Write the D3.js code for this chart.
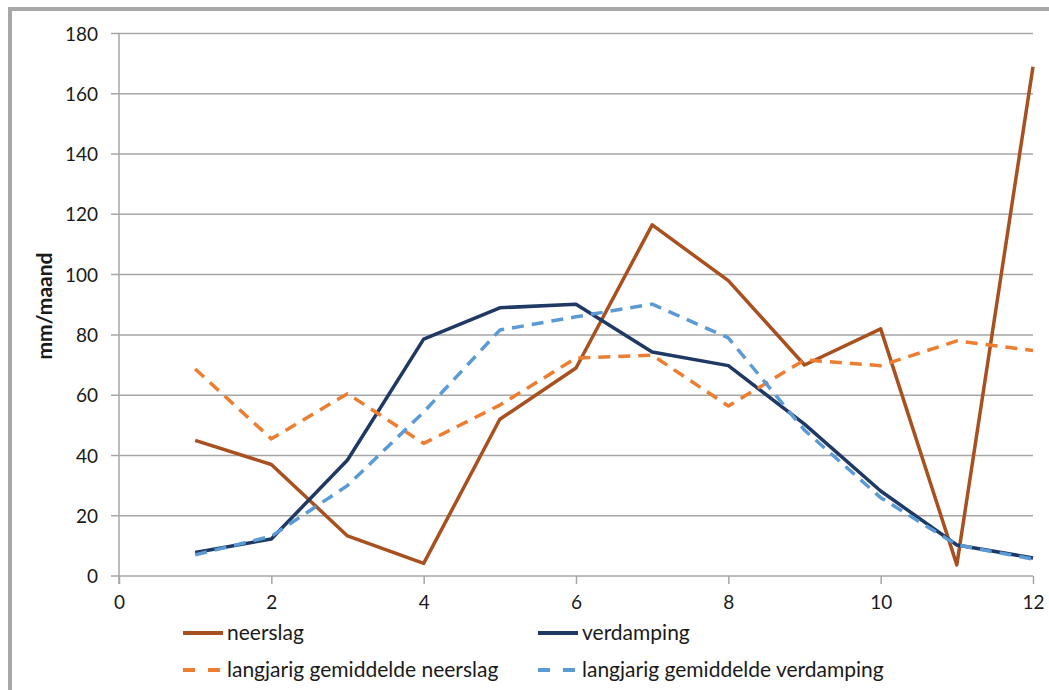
<!DOCTYPE html>
<html>
<head>
<meta charset="utf-8">
<script src="https://cdn.jsdelivr.net/npm/d3@7"></script>
<style>
  body { margin: 0; background: #fff; }
  text { font-family: Lato, "Open Sans", sans-serif; fill: #1a1a1a; }
</style>
</head>
<body>
<svg id="chart" width="1049" height="690"></svg>
<script>
// maand 1..12
const months = [1, 2, 3, 4, 5, 6, 7, 8, 9, 10, 11, 12];
const neerslag = [45, 37, 13.3, 4.2, 52, 69, 116.5, 98, 70, 82, 3.7, 169];
const verdamping = [7.8, 12.3, 38.5, 78.6, 89, 90.2, 74.3, 69.8, 50.4, 28.2, 10.3, 6];
const gemNeerslag = [68.7, 45.5, 60.5, 44, 56.7, 72.3, 73.3, 56.4, 71.7, 69.8, 78, 74.8];
const gemVerdamping = [7, 13.2, 30, 54.4, 81.6, 86, 90.2, 79, 48.4, 26, 10.3, 5.6];
const xTicks = [0, 2, 4, 6, 8, 10, 12];
const yTicks = [0, 20, 40, 60, 80, 100, 120, 140, 160, 180];

const series = [
    { name: "neerslag", values: neerslag, color: "#a9501f", dash: null },
    { name: "verdamping", values: verdamping, color: "#1f3864", dash: null },
    { name: "langjarig gemiddelde neerslag", values: gemNeerslag, color: "#ed7d31", dash: "12,8" },
    { name: "langjarig gemiddelde verdamping", values: gemVerdamping, color: "#5b9bd5", dash: "12,8" }
];

const svg = d3.select("#chart");

// outer frame (only top and left visible)
svg.append("rect")
    .attr("x", 10).attr("y", 9)
    .attr("width", 1200).attr("height", 900)
    .attr("fill", "none")
    .attr("stroke", "#a8a8a8")
    .attr("stroke-width", 4);

const xscale = d3.scaleLinear().domain([0, 12]).range([119, 1033]);
const yscale = d3.scaleLinear().domain([0, 180]).range([576, 33.5]);

// gridlines + y labels
const yaxis = d3.axisLeft(yscale).tickValues(yTicks).tickSize(0).tickPadding(0);
const g_yaxis = svg.append("g").attr("transform", "translate(111,0)").call(yaxis);
g_yaxis.select(".domain").remove();
g_yaxis.selectAll("text")
    .attr("x", -13)
    .attr("dy", "0.35em")
    .style("font-size", "19px")
    .style("font-family", "Lato, 'Open Sans', sans-serif")
    .attr("fill", "#1a1a1a");

svg.append("g").selectAll("line").data(yTicks).join("line")
    .attr("x1", 111).attr("x2", 1033)
    .attr("y1", d => yscale(d)).attr("y2", d => yscale(d))
    .attr("stroke", "#a6a6a6").attr("stroke-width", 1.5);

// vertical axis line
svg.append("line")
    .attr("x1", xscale(0)).attr("x2", xscale(0))
    .attr("y1", yscale(180)).attr("y2", yscale(0) + 8)
    .attr("stroke", "#a6a6a6").attr("stroke-width", 1.5);

// x axis
const xaxis = d3.axisBottom(xscale).tickValues(xTicks).tickSize(8).tickPadding(12);
const g_xaxis = svg.append("g").attr("transform", `translate(0,${yscale(0)})`).call(xaxis);
g_xaxis.select(".domain").remove();
g_xaxis.selectAll("line").attr("stroke", "#a6a6a6").attr("stroke-width", 1.5);
g_xaxis.selectAll("text")
    .style("font-size", "19px")
    .style("font-family", "Lato, 'Open Sans', sans-serif")
    .attr("fill", "#1a1a1a");

// y axis title
svg.append("text")
    .attr("transform", "translate(52,306) rotate(-90)")
    .attr("text-anchor", "middle")
    .style("font-size", "21px")
    .style("font-weight", "bold")
    .text("mm/maand");

// lines
const line = d3.line()
    .x((d, i) => xscale(months[i]))
    .y(d => yscale(d));

svg.append("g").selectAll("path").data(series).join("path")
    .attr("d", d => line(d.values))
    .attr("fill", "none")
    .attr("stroke", d => d.color)
    .attr("stroke-width", 3.5)
    .attr("stroke-linejoin", "round")
    .attr("stroke-dasharray", d => d.dash);

// legend
const legendPos = [[183, 633], [538, 633], [183, 670], [538, 670]];
const legend = svg.append("g").selectAll("g").data(series).join("g")
    .attr("transform", (d, i) => `translate(${legendPos[i][0]},${legendPos[i][1]})`);
legend.append("line")
    .attr("x1", 0).attr("x2", 40)
    .attr("stroke", d => d.color)
    .attr("stroke-width", 4)
    .attr("stroke-dasharray", d => d.dash ? "12,13" : null);
legend.append("text")
    .attr("x", 44)
    .attr("dy", "0.32em")
    .style("font-size", "21px")
    .text(d => d.name);
</script>
</body>
</html>
